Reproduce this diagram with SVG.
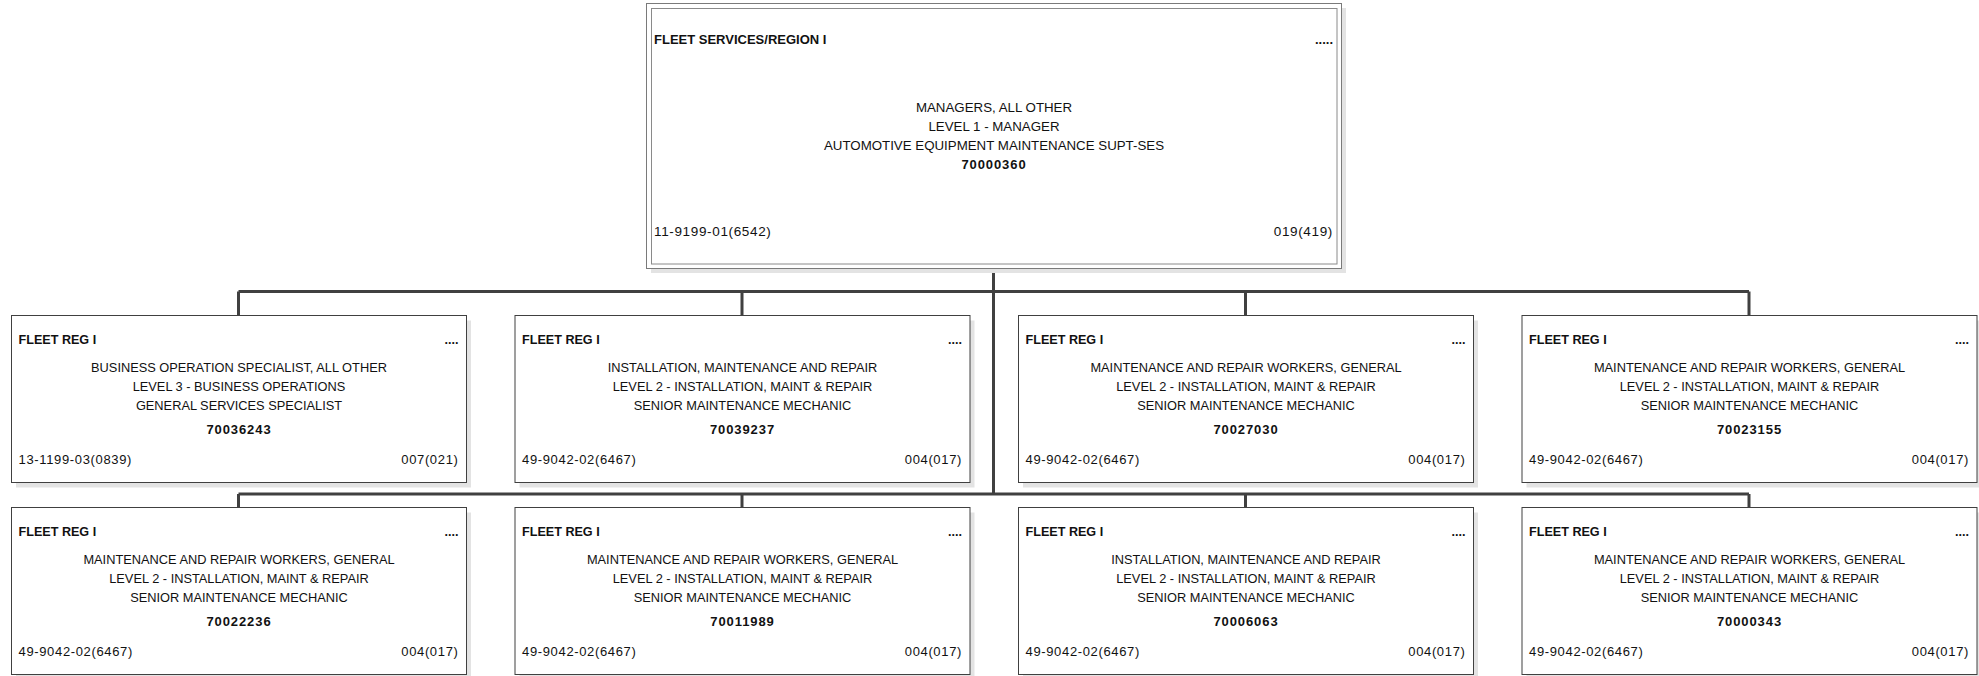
<svg xmlns="http://www.w3.org/2000/svg" width="1979" height="676" viewBox="0 0 1979 676">
  <style>
    text { font-family: "Liberation Sans", Arial, sans-serif; fill: #111111; }
    .shadow { fill: #e3e3e3; stroke: none; }
    .box { fill: #ffffff; stroke: #404040; stroke-width: 1; }
    .topOuter { fill: #ffffff; stroke: #7a7a7a; stroke-width: 1; }
    .topInner { fill: none; stroke: #8a8a8a; stroke-width: 1; }
    .hdr { font-size: 12.6px; font-weight: bold; }
    .dots { font-size: 12.6px; font-weight: bold; text-anchor: end; }
    .ln { font-size: 12.8px; text-anchor: middle; }
    .num { font-size: 13px; font-weight: bold; text-anchor: middle; letter-spacing: 0.9px; }
    .codeL { font-size: 13px; letter-spacing: 0.65px; }
    .codeR { font-size: 13px; letter-spacing: 0.65px; text-anchor: end; }
    .t .hdr, .t .dots { font-size: 13px; }
    .t .ln { font-size: 13.3px; }
    .t .codeL, .t .codeR { font-size: 13.5px; }
    .conn { fill: none; stroke: #404040; stroke-width: 3; }
  </style>

  <!-- reporting lines -->
  <g id="connectors">
    <path class="conn" d="M993.5,268.5 V494"/>
    <path class="conn" d="M238.5,291.5 H1749 M238.5,291.5 V315.5 M742,291.5 V315.5 M1245.5,291.5 V315.5 M1749,291.5 V315.5"/>
    <path class="conn" d="M238.5,494 H1749 M238.5,494 V507.5 M742,494 V507.5 M1245.5,494 V507.5 M1749,494 V507.5"/>
  </g>

  <!-- top position -->
  <g id="node-70000360" class="t">
    <rect class="shadow" x="651" y="8" width="695" height="265"/>
    <rect class="topOuter" x="646.5" y="3.5" width="695" height="265"/>
    <rect class="topInner" x="651.5" y="8.5" width="685.5" height="255.5"/>
    <text class="hdr" x="654" y="44">FLEET SERVICES/REGION I</text>
    <text class="dots" x="1333" y="44">.....</text>
    <text class="ln" x="994" y="111.5">MANAGERS, ALL OTHER</text>
    <text class="ln" x="994" y="130.5">LEVEL 1 - MANAGER</text>
    <text class="ln" x="994" y="149.5">AUTOMOTIVE EQUIPMENT MAINTENANCE SUPT-SES</text>
    <text class="num" x="994" y="168.5">70000360</text>
    <text class="codeL" x="654" y="235.5">11-9199-01(6542)</text>
    <text class="codeR" x="1333" y="235.5">019(419)</text>
  </g>

  <!-- first row -->
  <g id="node-70036243" transform="translate(11,315.5)">
    <rect class="shadow" x="5" y="5" width="455" height="167"/>
    <rect class="box" x="0.5" y="0" width="455" height="167"/>
    <text class="hdr" x="7.5" y="28.5">FLEET REG I</text>
    <text class="dots" x="447.5" y="28.5">....</text>
    <text class="ln" x="228" y="56">BUSINESS OPERATION SPECIALIST, ALL OTHER</text>
    <text class="ln" x="228" y="75.5">LEVEL 3 - BUSINESS OPERATIONS</text>
    <text class="ln" x="228" y="94.5">GENERAL SERVICES SPECIALIST</text>
    <text class="num" x="228" y="118.5">70036243</text>
    <text class="codeL" x="7.5" y="148">13-1199-03(0839)</text>
    <text class="codeR" x="447.5" y="148">007(021)</text>
  </g>

  <g id="node-70039237" transform="translate(514.5,315.5)">
    <rect class="shadow" x="5" y="5" width="455" height="167"/>
    <rect class="box" x="0.5" y="0" width="455" height="167"/>
    <text class="hdr" x="7.5" y="28.5">FLEET REG I</text>
    <text class="dots" x="447.5" y="28.5">....</text>
    <text class="ln" x="228" y="56">INSTALLATION, MAINTENANCE AND REPAIR</text>
    <text class="ln" x="228" y="75.5">LEVEL 2 - INSTALLATION, MAINT &amp; REPAIR</text>
    <text class="ln" x="228" y="94.5">SENIOR MAINTENANCE MECHANIC</text>
    <text class="num" x="228" y="118.5">70039237</text>
    <text class="codeL" x="7.5" y="148">49-9042-02(6467)</text>
    <text class="codeR" x="447.5" y="148">004(017)</text>
  </g>

  <g id="node-70027030" transform="translate(1018,315.5)">
    <rect class="shadow" x="5" y="5" width="455" height="167"/>
    <rect class="box" x="0.5" y="0" width="455" height="167"/>
    <text class="hdr" x="7.5" y="28.5">FLEET REG I</text>
    <text class="dots" x="447.5" y="28.5">....</text>
    <text class="ln" x="228" y="56">MAINTENANCE AND REPAIR WORKERS, GENERAL</text>
    <text class="ln" x="228" y="75.5">LEVEL 2 - INSTALLATION, MAINT &amp; REPAIR</text>
    <text class="ln" x="228" y="94.5">SENIOR MAINTENANCE MECHANIC</text>
    <text class="num" x="228" y="118.5">70027030</text>
    <text class="codeL" x="7.5" y="148">49-9042-02(6467)</text>
    <text class="codeR" x="447.5" y="148">004(017)</text>
  </g>

  <g id="node-70023155" transform="translate(1521.5,315.5)">
    <rect class="shadow" x="5" y="5" width="455" height="167"/>
    <rect class="box" x="0.5" y="0" width="455" height="167"/>
    <text class="hdr" x="7.5" y="28.5">FLEET REG I</text>
    <text class="dots" x="447.5" y="28.5">....</text>
    <text class="ln" x="228" y="56">MAINTENANCE AND REPAIR WORKERS, GENERAL</text>
    <text class="ln" x="228" y="75.5">LEVEL 2 - INSTALLATION, MAINT &amp; REPAIR</text>
    <text class="ln" x="228" y="94.5">SENIOR MAINTENANCE MECHANIC</text>
    <text class="num" x="228" y="118.5">70023155</text>
    <text class="codeL" x="7.5" y="148">49-9042-02(6467)</text>
    <text class="codeR" x="447.5" y="148">004(017)</text>
  </g>

  <!-- second row -->
  <g id="node-70022236" transform="translate(11,507.5)">
    <rect class="shadow" x="5" y="5" width="455" height="167"/>
    <rect class="box" x="0.5" y="0" width="455" height="167"/>
    <text class="hdr" x="7.5" y="28.5">FLEET REG I</text>
    <text class="dots" x="447.5" y="28.5">....</text>
    <text class="ln" x="228" y="56">MAINTENANCE AND REPAIR WORKERS, GENERAL</text>
    <text class="ln" x="228" y="75.5">LEVEL 2 - INSTALLATION, MAINT &amp; REPAIR</text>
    <text class="ln" x="228" y="94.5">SENIOR MAINTENANCE MECHANIC</text>
    <text class="num" x="228" y="118.5">70022236</text>
    <text class="codeL" x="7.5" y="148">49-9042-02(6467)</text>
    <text class="codeR" x="447.5" y="148">004(017)</text>
  </g>

  <g id="node-70011989" transform="translate(514.5,507.5)">
    <rect class="shadow" x="5" y="5" width="455" height="167"/>
    <rect class="box" x="0.5" y="0" width="455" height="167"/>
    <text class="hdr" x="7.5" y="28.5">FLEET REG I</text>
    <text class="dots" x="447.5" y="28.5">....</text>
    <text class="ln" x="228" y="56">MAINTENANCE AND REPAIR WORKERS, GENERAL</text>
    <text class="ln" x="228" y="75.5">LEVEL 2 - INSTALLATION, MAINT &amp; REPAIR</text>
    <text class="ln" x="228" y="94.5">SENIOR MAINTENANCE MECHANIC</text>
    <text class="num" x="228" y="118.5">70011989</text>
    <text class="codeL" x="7.5" y="148">49-9042-02(6467)</text>
    <text class="codeR" x="447.5" y="148">004(017)</text>
  </g>

  <g id="node-70006063" transform="translate(1018,507.5)">
    <rect class="shadow" x="5" y="5" width="455" height="167"/>
    <rect class="box" x="0.5" y="0" width="455" height="167"/>
    <text class="hdr" x="7.5" y="28.5">FLEET REG I</text>
    <text class="dots" x="447.5" y="28.5">....</text>
    <text class="ln" x="228" y="56">INSTALLATION, MAINTENANCE AND REPAIR</text>
    <text class="ln" x="228" y="75.5">LEVEL 2 - INSTALLATION, MAINT &amp; REPAIR</text>
    <text class="ln" x="228" y="94.5">SENIOR MAINTENANCE MECHANIC</text>
    <text class="num" x="228" y="118.5">70006063</text>
    <text class="codeL" x="7.5" y="148">49-9042-02(6467)</text>
    <text class="codeR" x="447.5" y="148">004(017)</text>
  </g>

  <g id="node-70000343" transform="translate(1521.5,507.5)">
    <rect class="shadow" x="5" y="5" width="455" height="167"/>
    <rect class="box" x="0.5" y="0" width="455" height="167"/>
    <text class="hdr" x="7.5" y="28.5">FLEET REG I</text>
    <text class="dots" x="447.5" y="28.5">....</text>
    <text class="ln" x="228" y="56">MAINTENANCE AND REPAIR WORKERS, GENERAL</text>
    <text class="ln" x="228" y="75.5">LEVEL 2 - INSTALLATION, MAINT &amp; REPAIR</text>
    <text class="ln" x="228" y="94.5">SENIOR MAINTENANCE MECHANIC</text>
    <text class="num" x="228" y="118.5">70000343</text>
    <text class="codeL" x="7.5" y="148">49-9042-02(6467)</text>
    <text class="codeR" x="447.5" y="148">004(017)</text>
  </g>
</svg>
